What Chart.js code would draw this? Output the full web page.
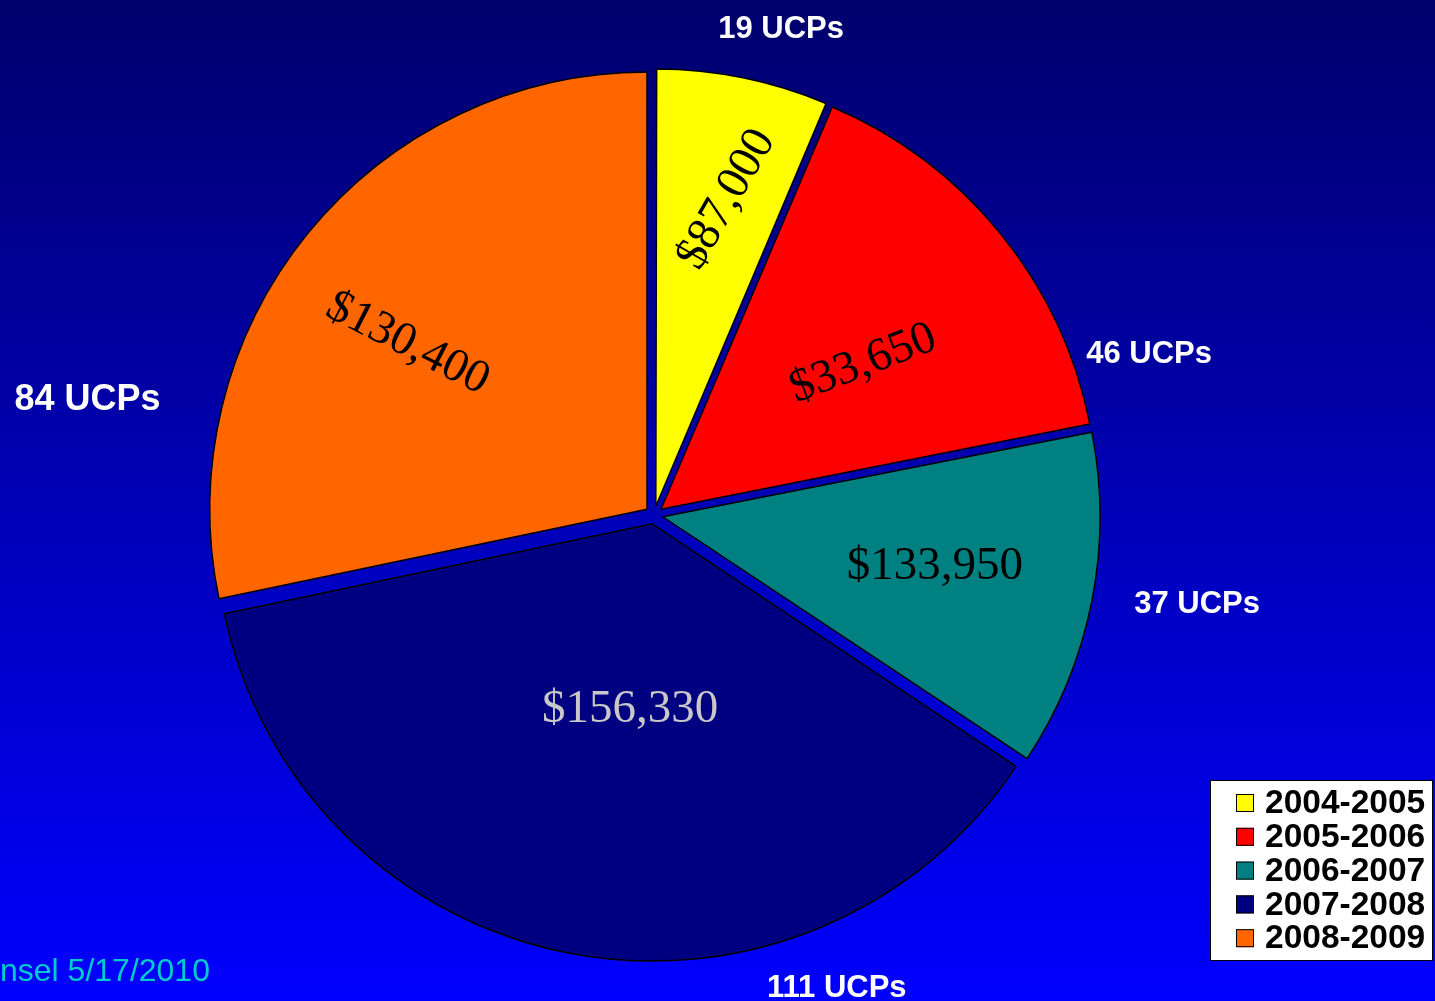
<!DOCTYPE html>
<html>
<head>
<meta charset="utf-8">
<script src="https://cdn.jsdelivr.net/npm/chart.js@4.4.0/dist/chart.umd.min.js"></script>
<style>
  html, body { margin: 0; padding: 0; overflow: hidden; }
  canvas { display: block; }
</style>
</head>
<body>
<canvas id="pieChart" width="1435" height="1001"></canvas>
<script>
// Datos del gráfico
const seasons = ['2004-2005', '2005-2006', '2006-2007', '2007-2008', '2008-2009'];
const ucpCounts = [19, 46, 37, 111, 84];
const amounts = ['$87,000', '$33,650', '$133,950', '$156,330', '$130,400'];
const sliceColors = ['#FFFF00', '#FF0000', '#008080', '#000080', '#FF6600'];
const amountColors = ['#000000', '#000000', '#000000', '#C8C8C8', '#000000'];
const footerText = 'nsel 5/17/2010';

// Colocación de etiquetas: ángulo (grados desde arriba, sentido horario), radio relativo, giro del texto
const outerLabelPos = [[14.6, 1.153], [71.8, 1.192], [99.1, 1.258], [158.8, 1.156], [281.7, 1.323]];
const outerLabelSize = [31, 31, 31, 31, 36];
const innerLabelPos = [[12.9, 0.745, -60], [53.8, 0.593, -21], [100, 0.652, 0], [187.1, 0.444, 0], [305.1, 0.689, 27]];

const SLICE_OFFSET = 36; // Chart.js lo divide entre 4 al dibujar (≈9px)
let pieRadius = 0;

// Fondo degradado
const backgroundPlugin = {
    id: 'fondo',
    beforeDraw(chart) {
        const ctx = chart.ctx;
        const g = ctx.createLinearGradient(0, 0, 0, chart.height);
        g.addColorStop(0, '#00006C');
        g.addColorStop(1, '#0000FF');
        ctx.save();
        ctx.fillStyle = g;
        ctx.fillRect(0, 0, chart.width, chart.height);
        ctx.restore();
    }
};

// Chart.js agranda las porciones pequeñas al separarlas; se compensa para que todas tengan el mismo radio
const explodePlugin = {
    id: 'separacion',
    afterDatasetsUpdate(chart) {
        const arcs = chart.getDatasetMeta(0).data;
        pieRadius = arcs[0].outerRadius;
        arcs.forEach(arc => {
            const circ = arc.endAngle - arc.startAngle;
            const fix = 1 - Math.sin(Math.min(Math.PI, circ));
            arc.outerRadius = pieRadius - (SLICE_OFFSET / 4) * fix;
        });
    }
};

// Etiquetas, leyenda y pie de página
const labelsPlugin = {
    id: 'etiquetas',
    afterDatasetsDraw(chart) {
        const ctx = chart.ctx;
        const arcs = chart.getDatasetMeta(0).data;
        const cx = arcs[0].x, cy = arcs[0].y + 2, R = pieRadius;
        ctx.save();
        ctx.textAlign = 'center';
        ctx.textBaseline = 'middle';

        // etiquetas exteriores (UCPs)
        ucpCounts.forEach((n, i) => {
            const a = outerLabelPos[i][0] * Math.PI / 180;
            const r = outerLabelPos[i][1] * R;
            ctx.font = 'bold ' + outerLabelSize[i] + 'px "Liberation Sans", Arial, sans-serif';
            ctx.fillStyle = '#FFFFFF';
            ctx.fillText(n + ' UCPs', cx + r * Math.sin(a), cy - r * Math.cos(a));
        });

        // montos dentro de cada porción
        amounts.forEach((txt, i) => {
            const a = innerLabelPos[i][0] * Math.PI / 180;
            const r = innerLabelPos[i][1] * R;
            ctx.save();
            ctx.translate(cx + r * Math.sin(a), cy - r * Math.cos(a));
            ctx.rotate(innerLabelPos[i][2] * Math.PI / 180);
            ctx.font = '47px "Liberation Serif", "Times New Roman", serif';
            ctx.fillStyle = amountColors[i];
            ctx.fillText(txt, 0, 0);
            ctx.restore();
        });

        // leyenda
        const lx = 1210, ly = 780, lw = 222, lh = 180, row = 33.8;
        ctx.fillStyle = '#FFFFFF';
        ctx.fillRect(lx, ly, lw, lh);
        ctx.strokeStyle = '#000000';
        ctx.lineWidth = 1;
        ctx.strokeRect(lx + 0.5, ly + 0.5, lw, lh);
        ctx.textAlign = 'left';
        ctx.font = 'bold 33.5px "Liberation Sans", Arial, sans-serif';
        seasons.forEach((s, i) => {
            const y = ly + 23 + i * row;
            ctx.fillStyle = sliceColors[i];
            ctx.fillRect(lx + 26, y - 9, 18, 18);
            ctx.strokeRect(lx + 26.5, y - 8.5, 17, 17);
            ctx.fillStyle = '#000000';
            ctx.fillText(s, lx + 55, y + 1);
        });

        // pie de página
        ctx.font = '32px "Liberation Sans", Arial, sans-serif';
        ctx.fillStyle = '#00CCCC';
        ctx.textBaseline = 'alphabetic';
        ctx.fillText(footerText, 0, 981);
        ctx.restore();
    }
};

const ctx1 = document.getElementById('pieChart').getContext('2d');
new Chart(ctx1, {
    type: 'pie',
    data: {
        labels: seasons,
        datasets: [{
            data: ucpCounts,
            backgroundColor: sliceColors,
            borderColor: '#000000',
            borderWidth: 1.5,
            offset: SLICE_OFFSET,
            hoverOffset: 0
        }]
    },
    options: {
        responsive: false,
        animation: false,
        devicePixelRatio: 1,
        layout: { padding: { left: 198, top: 59, right: 325, bottom: 30 } },
        plugins: {
            legend: { display: false },
            tooltip: { enabled: false }
        }
    },
    plugins: [backgroundPlugin, explodePlugin, labelsPlugin]
});
</script>
</body>
</html>
